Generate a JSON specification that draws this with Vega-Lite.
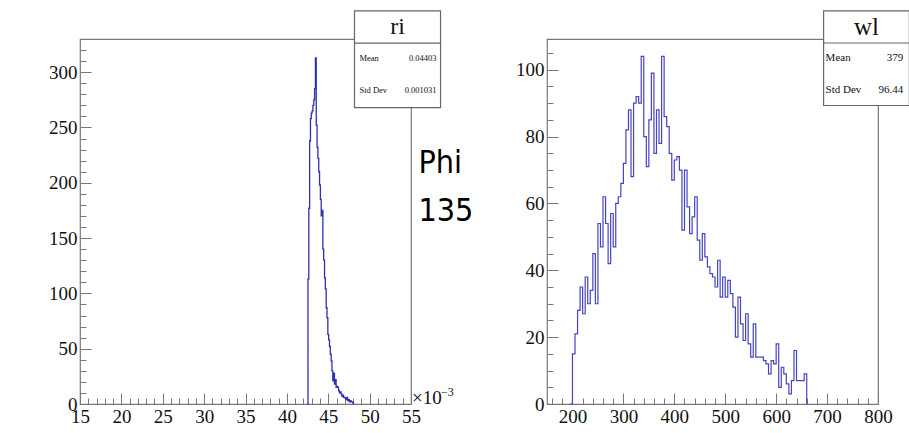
{
  "$schema": "https://vega.github.io/schema/vega-lite/v6.json",
  "background": "white",
  "padding": {"left": 47, "top": 9, "right": 0, "bottom": 0},
  "bounds": "flush",
  "spacing": 136,
  "config": {
    "view": {"stroke": "#777", "strokeWidth": 1.2},
    "axis": {"labelFont": "Liberation Serif", "labelFontSize": 19, "labelColor": "#111", "tickColor": "#777", "tickWidth": 1, "domain": false, "grid": false, "labelOverlap": false, "labelFlush": false, "labelPadding": 14, "tickCount": 200, "format": "d"}
  },
  "datasets": {
    "ri": [
      {"ri": 42.45, "n": 0}, {"ri": 42.55, "n": 113}, {"ri": 42.65, "n": 177}, {"ri": 42.75, "n": 238}, {"ri": 42.85, "n": 258},
      {"ri": 42.95, "n": 263}, {"ri": 43.05, "n": 265}, {"ri": 43.15, "n": 270}, {"ri": 43.25, "n": 275}, {"ri": 43.35, "n": 285},
      {"ri": 43.45, "n": 313}, {"ri": 43.55, "n": 252}, {"ri": 43.65, "n": 232}, {"ri": 43.75, "n": 222}, {"ri": 43.85, "n": 210},
      {"ri": 43.95, "n": 198}, {"ri": 44.05, "n": 185}, {"ri": 44.15, "n": 170}, {"ri": 44.25, "n": 175}, {"ri": 44.35, "n": 140},
      {"ri": 44.45, "n": 130}, {"ri": 44.55, "n": 114}, {"ri": 44.65, "n": 104}, {"ri": 44.75, "n": 87}, {"ri": 44.85, "n": 78},
      {"ri": 44.95, "n": 63}, {"ri": 45.05, "n": 58}, {"ri": 45.15, "n": 52}, {"ri": 45.25, "n": 45}, {"ri": 45.35, "n": 39},
      {"ri": 45.45, "n": 30}, {"ri": 45.55, "n": 21}, {"ri": 45.65, "n": 28}, {"ri": 45.75, "n": 18}, {"ri": 45.85, "n": 22},
      {"ri": 45.95, "n": 15}, {"ri": 46.05, "n": 16}, {"ri": 46.15, "n": 15}, {"ri": 46.25, "n": 12}, {"ri": 46.35, "n": 10},
      {"ri": 46.45, "n": 11}, {"ri": 46.55, "n": 9}, {"ri": 46.65, "n": 7}, {"ri": 46.75, "n": 8}, {"ri": 46.85, "n": 6},
      {"ri": 46.95, "n": 6}, {"ri": 47.05, "n": 5}, {"ri": 47.15, "n": 4}, {"ri": 47.25, "n": 6}, {"ri": 47.35, "n": 3},
      {"ri": 47.45, "n": 4}, {"ri": 47.55, "n": 2}, {"ri": 47.65, "n": 3}, {"ri": 47.75, "n": 2}, {"ri": 47.85, "n": 2},
      {"ri": 47.95, "n": 1}, {"ri": 48.05, "n": 0}
    ],
    "wl": [
      {"wl": 195, "n": 0}, {"wl": 200, "n": 15}, {"wl": 205, "n": 21}, {"wl": 210, "n": 28}, {"wl": 215, "n": 35},
      {"wl": 220, "n": 27}, {"wl": 225, "n": 38}, {"wl": 230, "n": 30}, {"wl": 235, "n": 34}, {"wl": 240, "n": 45},
      {"wl": 245, "n": 30}, {"wl": 250, "n": 54}, {"wl": 255, "n": 47}, {"wl": 260, "n": 62}, {"wl": 265, "n": 54},
      {"wl": 270, "n": 42}, {"wl": 275, "n": 57}, {"wl": 280, "n": 47}, {"wl": 285, "n": 60}, {"wl": 290, "n": 62},
      {"wl": 295, "n": 66}, {"wl": 300, "n": 72}, {"wl": 305, "n": 82}, {"wl": 310, "n": 88}, {"wl": 315, "n": 68},
      {"wl": 320, "n": 90}, {"wl": 325, "n": 92}, {"wl": 330, "n": 90}, {"wl": 335, "n": 104}, {"wl": 340, "n": 80},
      {"wl": 345, "n": 71}, {"wl": 350, "n": 85}, {"wl": 355, "n": 99}, {"wl": 360, "n": 75}, {"wl": 365, "n": 88},
      {"wl": 370, "n": 78}, {"wl": 375, "n": 104}, {"wl": 380, "n": 86}, {"wl": 385, "n": 83}, {"wl": 390, "n": 75},
      {"wl": 395, "n": 67}, {"wl": 400, "n": 73}, {"wl": 405, "n": 74}, {"wl": 410, "n": 70}, {"wl": 415, "n": 52},
      {"wl": 420, "n": 70}, {"wl": 425, "n": 59}, {"wl": 430, "n": 51}, {"wl": 435, "n": 56}, {"wl": 440, "n": 62},
      {"wl": 445, "n": 49}, {"wl": 450, "n": 43}, {"wl": 455, "n": 51}, {"wl": 460, "n": 44}, {"wl": 465, "n": 41},
      {"wl": 470, "n": 39}, {"wl": 475, "n": 38}, {"wl": 480, "n": 35}, {"wl": 485, "n": 43}, {"wl": 490, "n": 32},
      {"wl": 495, "n": 38}, {"wl": 500, "n": 32}, {"wl": 505, "n": 37}, {"wl": 510, "n": 33}, {"wl": 515, "n": 29},
      {"wl": 520, "n": 20}, {"wl": 525, "n": 32}, {"wl": 530, "n": 24}, {"wl": 535, "n": 19}, {"wl": 540, "n": 27},
      {"wl": 545, "n": 18}, {"wl": 550, "n": 14}, {"wl": 555, "n": 24}, {"wl": 560, "n": 14}, {"wl": 565, "n": 14},
      {"wl": 570, "n": 14}, {"wl": 575, "n": 13}, {"wl": 580, "n": 12}, {"wl": 585, "n": 9}, {"wl": 590, "n": 13},
      {"wl": 595, "n": 12}, {"wl": 600, "n": 18}, {"wl": 605, "n": 5}, {"wl": 610, "n": 11}, {"wl": 615, "n": 9},
      {"wl": 620, "n": 6}, {"wl": 625, "n": 3}, {"wl": 630, "n": 7}, {"wl": 635, "n": 16}, {"wl": 640, "n": 7},
      {"wl": 645, "n": 7}, {"wl": 650, "n": 7}, {"wl": 655, "n": 9}, {"wl": 660, "n": 0}
    ],
    "riStats": [{"stat": "Mean", "val": "0.04403"}, {"stat": "Std Dev", "val": "0.001031"}],
    "wlStats": [{"stat": "Mean", "val": "379"}, {"stat": "Std Dev", "val": "96.44"}]
  },
  "hconcat": [
    {
      "width": 331,
      "height": 365,
      "layer": [
        {
          "data": {"name": "ri"},
          "mark": {"type": "line", "interpolate": "step-after", "color": "#3030b0", "strokeWidth": 1.3},
          "encoding": {
            "x": {"field": "ri", "type": "quantitative", "title": null,
              "scale": {"domain": [15, 55], "nice": false, "zero": false},
              "axis": {
                "values": [15,16,17,18,19,20,21,22,23,24,25,26,27,28,29,30,31,32,33,34,35,36,37,38,39,40,41,42,43,44,45,46,47,48,49,50,51,52,53,54,55],
                "labelExpr": "datum.value % 5 === 0 ? datum.label : ''",
                "format": "d",
                "labelOverlap": false,
                "labelPadding": 14,
                "tickCount": 200,
                "tickSize": {"condition": {"test": "datum.value % 5 === 0", "value": -11}, "value": -6}
              }},
            "y": {"field": "n", "type": "quantitative", "title": null,
              "scale": {"domain": [0, 330], "nice": false},
              "axis": {
                "values": [0,10,20,30,40,50,60,70,80,90,100,110,120,130,140,150,160,170,180,190,200,210,220,230,240,250,260,270,280,290,300,310,320],
                "labelExpr": "datum.value % 50 === 0 ? datum.label : ''",
                "format": "d",
                "labelOverlap": false,
                "labelPadding": 14,
                "tickCount": 200,
                "tickSize": {"condition": {"test": "datum.value % 50 === 0", "value": -11}, "value": -6}
              }}
          }
        },
        {
          "data": {"values": [{}]},
          "mark": {"type": "rect", "fill": "white", "stroke": "#666", "strokeWidth": 1.2, "clip": false},
          "encoding": {"x": {"datum": 48.17}, "x2": {"datum": 58.57}, "y": {"datum": 355.5}, "y2": {"datum": 268}}
        },
        {
          "data": {"values": [{}]},
          "mark": {"type": "rule", "stroke": "#666", "strokeWidth": 1.2, "clip": false},
          "encoding": {"x": {"datum": 48.17}, "x2": {"datum": 58.57}, "y": {"datum": 326.2}}
        },
        {
          "data": {"values": [{}]},
          "mark": {"type": "text", "text": "ri", "font": "Liberation Serif", "fontSize": 24, "align": "center", "baseline": "middle", "color": "#111"},
          "encoding": {"x": {"datum": 53.37}, "y": {"datum": 340.8}}
        },
        {
          "data": {"name": "riStats"},
          "transform": [{"filter": "datum.stat === 'Mean'"}],
          "layer": [
            {"mark": {"type": "text", "font": "Liberation Serif", "fontSize": 8.5, "align": "left", "baseline": "middle", "dx": 5, "color": "#111"},
             "encoding": {"x": {"datum": 48.17}, "y": {"datum": 312.4}, "text": {"field": "stat"}}},
            {"mark": {"type": "text", "font": "Liberation Serif", "fontSize": 8.5, "align": "right", "baseline": "middle", "dx": -4, "color": "#111"},
             "encoding": {"x": {"datum": 58.57}, "y": {"datum": 312.4}, "text": {"field": "val"}}}
          ]
        },
        {
          "data": {"name": "riStats"},
          "transform": [{"filter": "datum.stat === 'Std Dev'"}],
          "layer": [
            {"mark": {"type": "text", "font": "Liberation Serif", "fontSize": 8.5, "align": "left", "baseline": "middle", "dx": 5, "color": "#111"},
             "encoding": {"x": {"datum": 48.17}, "y": {"datum": 283.5}, "text": {"field": "stat"}}},
            {"mark": {"type": "text", "font": "Liberation Serif", "fontSize": 8.5, "align": "right", "baseline": "middle", "dx": -4, "color": "#111"},
             "encoding": {"x": {"datum": 58.57}, "y": {"datum": 283.5}, "text": {"field": "val"}}}
          ]
        },
        {
          "data": {"values": [{}]},
          "mark": {"type": "text", "text": "×10", "font": "Liberation Serif", "fontSize": 19, "align": "left", "baseline": "alphabetic", "dx": 1, "color": "#111"},
          "encoding": {"x": {"datum": 55}, "y": {"datum": 0}}
        },
        {
          "data": {"values": [{}]},
          "mark": {"type": "text", "text": "−3", "font": "Liberation Serif", "fontSize": 12, "align": "left", "baseline": "alphabetic", "dx": 30, "dy": -8, "color": "#111"},
          "encoding": {"x": {"datum": 55}, "y": {"datum": 0}}
        },
        {
          "data": {"values": [{}]},
          "mark": {"type": "text", "text": "Phi", "font": "Liberation Sans Narrow, DejaVu Sans Condensed, Liberation Sans, sans-serif", "fontSize": 32, "align": "left", "baseline": "alphabetic", "color": "#000"},
          "encoding": {"x": {"datum": 55.9}, "y": {"datum": 208.7}}
        },
        {
          "data": {"values": [{}]},
          "mark": {"type": "text", "text": "135", "font": "Liberation Sans Narrow, DejaVu Sans Condensed, Liberation Sans, sans-serif", "fontSize": 32, "align": "left", "baseline": "alphabetic", "color": "#000"},
          "encoding": {"x": {"datum": 55.9}, "y": {"datum": 165.1}}
        }
      ]
    },
    {
      "width": 331,
      "height": 365,
      "layer": [
        {
          "data": {"name": "wl"},
          "mark": {"type": "line", "interpolate": "step-after", "color": "#4545c0", "strokeWidth": 1.2},
          "encoding": {
            "x": {"field": "wl", "type": "quantitative", "title": null,
              "scale": {"domain": [150, 800], "nice": false, "zero": false},
              "axis": {
                "values": [160,180,200,220,240,260,280,300,320,340,360,380,400,420,440,460,480,500,520,540,560,580,600,620,640,660,680,700,720,740,760,780,800],
                "labelExpr": "datum.value % 100 === 0 ? datum.label : ''",
                "format": "d",
                "labelOverlap": false,
                "labelPadding": 14,
                "tickCount": 200,
                "tickSize": {"condition": {"test": "datum.value % 100 === 0", "value": -11}, "value": -6}
              }},
            "y": {"field": "n", "type": "quantitative", "title": null,
              "scale": {"domain": [0, 109.2], "nice": false},
              "axis": {
                "values": [0,5,10,15,20,25,30,35,40,45,50,55,60,65,70,75,80,85,90,95,100,105],
                "labelExpr": "datum.value % 20 === 0 ? datum.label : ''",
                "format": "d",
                "labelOverlap": false,
                "labelPadding": 14,
                "tickCount": 200,
                "tickSize": {"condition": {"test": "datum.value % 20 === 0", "value": -11}, "value": -6}
              }}
          }
        },
        {
          "data": {"values": [{}]},
          "mark": {"type": "rect", "fill": "white", "stroke": "#666", "strokeWidth": 1.2, "clip": false},
          "encoding": {"x": {"datum": 693.2}, "x2": {"datum": 861.6}, "y": {"datum": 117.6}, "y2": {"datum": 89.3}}
        },
        {
          "data": {"values": [{}]},
          "mark": {"type": "rule", "stroke": "#666", "strokeWidth": 1.2, "clip": false},
          "encoding": {"x": {"datum": 693.2}, "x2": {"datum": 861.6}, "y": {"datum": 108.0}}
        },
        {
          "data": {"values": [{}]},
          "mark": {"type": "text", "text": "wl", "font": "Liberation Serif", "fontSize": 25, "align": "center", "baseline": "middle", "color": "#111"},
          "encoding": {"x": {"datum": 777.4}, "y": {"datum": 112.8}}
        },
        {
          "data": {"name": "wlStats"},
          "transform": [{"filter": "datum.stat === 'Mean'"}],
          "layer": [
            {"mark": {"type": "text", "font": "Liberation Serif", "fontSize": 11, "align": "left", "baseline": "middle", "dx": 2, "color": "#111"},
             "encoding": {"x": {"datum": 693.2}, "y": {"datum": 103.4}, "text": {"field": "stat"}}},
            {"mark": {"type": "text", "font": "Liberation Serif", "fontSize": 11, "align": "right", "baseline": "middle", "dx": -6, "color": "#111"},
             "encoding": {"x": {"datum": 861.6}, "y": {"datum": 103.4}, "text": {"field": "val"}}}
          ]
        },
        {
          "data": {"name": "wlStats"},
          "transform": [{"filter": "datum.stat === 'Std Dev'"}],
          "layer": [
            {"mark": {"type": "text", "font": "Liberation Serif", "fontSize": 11, "align": "left", "baseline": "middle", "dx": 2, "color": "#111"},
             "encoding": {"x": {"datum": 693.2}, "y": {"datum": 94.0}, "text": {"field": "stat"}}},
            {"mark": {"type": "text", "font": "Liberation Serif", "fontSize": 11, "align": "right", "baseline": "middle", "dx": -6, "color": "#111"},
             "encoding": {"x": {"datum": 861.6}, "y": {"datum": 94.0}, "text": {"field": "val"}}}
          ]
        }
      ]
    }
  ]
}
